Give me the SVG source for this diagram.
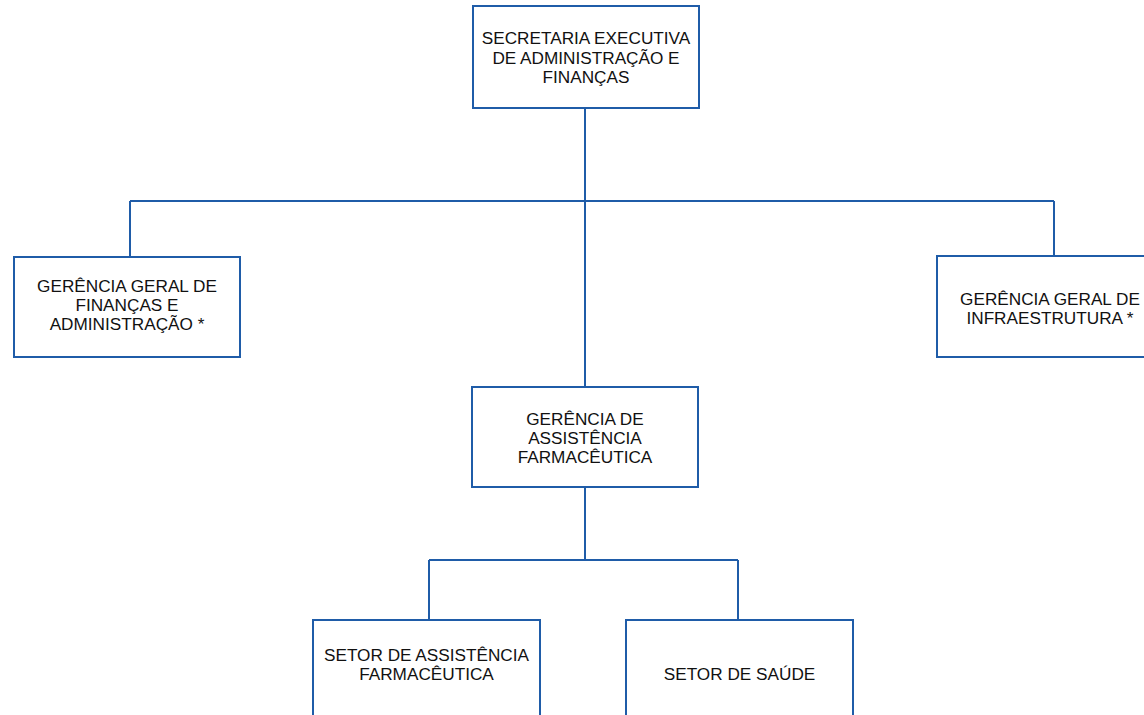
<svg xmlns="http://www.w3.org/2000/svg" width="1144" height="715" viewBox="0 0 1144 715">
<style>
.box{fill:#ffffff;stroke:#1f5ca8;stroke-width:2}
.ln{fill:none;stroke:#1f5ca8;stroke-width:2}
text{font-family:"Liberation Sans",Arial,sans-serif;font-size:17.2px;fill:#111111;text-anchor:middle}
</style>
<rect width="1144" height="715" fill="#ffffff"/>
<g id="connectors">
<path class="ln" d="M585,108 V387 M130,201 H1054 M130,201 V257 M1054,201 V256 M585,487 V560 M429,560 H738 M429,560 V620 M738,560 V620"/>
</g>
<g id="n1"><rect class="box" x="473" y="6" width="226" height="102"/>
<text x="586" y="44">SECRETARIA EXECUTIVA</text><text x="586" y="63.5">DE ADMINISTRAÇÃO E</text><text x="586" y="83">FINANÇAS</text></g>
<g id="n2"><rect class="box" x="14" y="257" width="226" height="100"/>
<text x="127" y="292">GERÊNCIA GERAL DE</text><text x="127" y="311">FINANÇAS E</text><text x="127" y="330">ADMINISTRAÇÃO *</text></g>
<g id="n3"><rect class="box" x="937" y="256" width="226" height="101"/>
<text x="1050" y="305">GERÊNCIA GERAL DE</text><text x="1050" y="324">INFRAESTRUTURA *</text></g>
<g id="n4"><rect class="box" x="472" y="387" width="226" height="100"/>
<text x="585" y="425">GERÊNCIA DE</text><text x="585" y="444">ASSISTÊNCIA</text><text x="585" y="463">FARMACÊUTICA</text></g>
<g id="n5"><rect class="box" x="313" y="620" width="227" height="100"/>
<text x="426.5" y="661">SETOR DE ASSISTÊNCIA</text><text x="426.5" y="680">FARMACÊUTICA</text></g>
<g id="n6"><rect class="box" x="626" y="620" width="227" height="100"/>
<text x="739.5" y="680">SETOR DE SAÚDE</text></g>
</svg>
